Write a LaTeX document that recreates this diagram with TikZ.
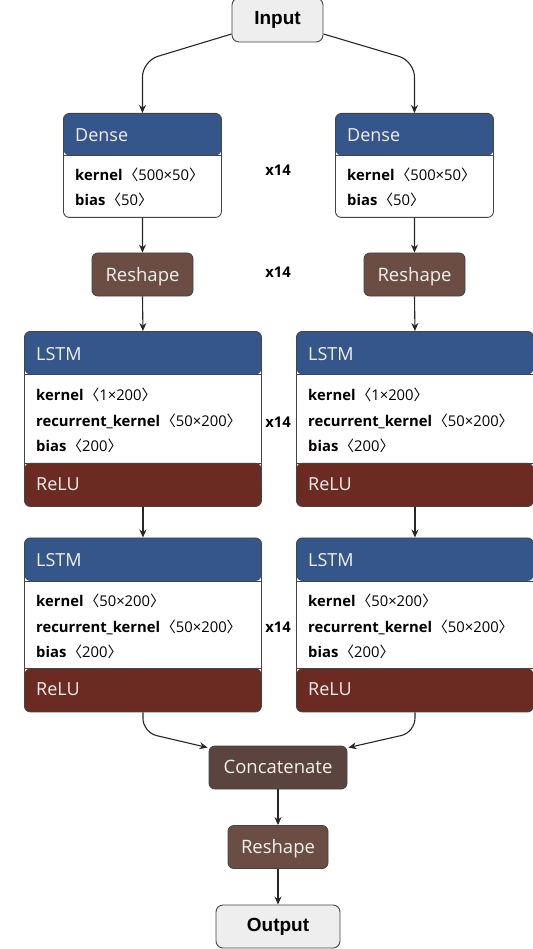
\documentclass[tikz,border=0pt]{standalone}
\usepackage{fontspec}
\setmainfont{Open Sans}
\newfontfamily\arialf{Liberation Sans}
\newfontfamily\cjkf{Noto Sans CJK SC}
\usetikzlibrary{arrows.meta,calc}
\definecolor{hdrblue}{HTML}{34568A}
\definecolor{relured}{HTML}{6B2A22}
\definecolor{reshbrown}{HTML}{6B4D44}
\definecolor{concbrown}{HTML}{5A443D}
\definecolor{iogray}{HTML}{EEEEEE}
\definecolor{bord}{HTML}{444444}
\definecolor{wtxt}{HTML}{F2F0EE}
\newcommand{\myL}{{\cjkf 〈}}
\newcommand{\myR}{{\cjkf 〉}}
\begin{document}
\begin{tikzpicture}[x=1pt,y=-1pt,
  layerbox/.style={draw=bord, line width=0.9pt, rounded corners=6pt, inner sep=0pt,
    anchor=north west, fill=white},
  densefill/.style={path picture={
    \fill[hdrblue] (path picture bounding box.north west) rectangle ([yshift=-42pt]path picture bounding box.north east);
    \draw[bord,line width=0.7pt] ([yshift=-42pt]path picture bounding box.north west) -- ([yshift=-42pt]path picture bounding box.north east);}},
  lstmfill/.style={path picture={
    \fill[hdrblue] (path picture bounding box.north west) rectangle ([yshift=-43pt]path picture bounding box.north east);
    \draw[bord,line width=0.7pt] ([yshift=-43pt]path picture bounding box.north west) -- ([yshift=-43pt]path picture bounding box.north east);
    \fill[relured] ([yshift=43.5pt]path picture bounding box.south west) rectangle (path picture bounding box.south east);
    \draw[bord,line width=0.7pt] ([yshift=43.5pt]path picture bounding box.south west) -- ([yshift=43.5pt]path picture bounding box.south east);}},
  opbox/.style={draw=bord, line width=0.9pt, rounded corners=6pt, inner sep=0pt,
    text=wtxt, font=\fontsize{18.5}{20}\selectfont, minimum height=43pt, text depth=1pt},
  iobox/.style={draw=bord, line width=0.9pt, rounded corners=7pt, inner sep=0pt, fill=iogray,
    font=\arialf\bfseries\fontsize{19}{20}\selectfont, minimum height=44pt},
  hdrtext/.style={anchor=mid west, inner sep=0pt, text=wtxt, font=\fontsize{18}{20}\selectfont},
  bodytext/.style={anchor=mid west, inner sep=0pt, font=\fontsize{14.8}{16}\selectfont},
  reptext/.style={inner sep=0pt, font=\bfseries\fontsize{14.8}{16}\selectfont},
  arr/.style={-{Stealth[length=8pt,width=7pt]}, line width=1.1pt, black!85}
]
\useasboundingbox (0,0) rectangle (532,949);

% Input
\node[iobox, minimum width=91pt] (in) at (277.5,20) {Input};

% Dense layers
\node[layerbox, densefill, minimum width=158pt, minimum height=104pt] (d1) at (63,113) {};
\node[layerbox, densefill, minimum width=158pt, minimum height=104pt] (d2) at (335,113) {};
\node[hdrtext] (d1h) at (75,139) {Dense};
\node[hdrtext] (d2h) at (347,139) {Dense};
\node[bodytext] (d1a) at (75,178) {\textbf{kernel}\hspace{1pt}\myL500×50\myR};
\node[bodytext] (d1b) at (75,203) {\textbf{bias}\hspace{1pt}\myL50\myR};
\node[bodytext] (d2a) at (347,178) {\textbf{kernel}\hspace{1pt}\myL500×50\myR};
\node[bodytext] (d2b) at (347,203) {\textbf{bias}\hspace{1pt}\myL50\myR};
\node[reptext] (x1) at (278,170) {x14};

% Reshape layers
\node[opbox, fill=reshbrown, minimum width=101pt] (r1) at (142.5,274.5) {Reshape};
\node[opbox, fill=reshbrown, minimum width=101pt] (r2) at (414.5,274.5) {Reshape};
\node[reptext] (x2) at (278,272) {x14};

% LSTM 1
\node[layerbox, lstmfill, minimum width=237pt, minimum height=175pt] (l1) at (24,331) {};
\node[layerbox, lstmfill, minimum width=237pt, minimum height=175pt] (l2) at (296,331) {};
\node[hdrtext] (l1h) at (36,358) {LSTM};
\node[hdrtext] (l2h) at (308,358) {LSTM};
\node[bodytext] (l1a) at (36,398) {\textbf{kernel}\hspace{1pt}\myL1×200\myR};
\node[bodytext] (l1b) at (36,423.5) {\textbf{recurrent\_kernel}\hspace{1pt}\myL50×200\myR};
\node[bodytext] (l1c) at (36,449) {\textbf{bias}\hspace{1pt}\myL200\myR};
\node[hdrtext] (l1f) at (36,488) {ReLU};
\node[bodytext] (l2a) at (308,398) {\textbf{kernel}\hspace{1pt}\myL1×200\myR};
\node[bodytext] (l2b) at (308,423.5) {\textbf{recurrent\_kernel}\hspace{1pt}\myL50×200\myR};
\node[bodytext] (l2c) at (308,449) {\textbf{bias}\hspace{1pt}\myL200\myR};
\node[hdrtext] (l2f) at (308,488) {ReLU};
\node[reptext] (x3) at (278,422) {x14};

% LSTM 2
\node[layerbox, lstmfill, minimum width=237pt, minimum height=174pt] (m1) at (24,537.5) {};
\node[layerbox, lstmfill, minimum width=237pt, minimum height=174pt] (m2) at (296,537.5) {};
\node[hdrtext] (m1h) at (36,564) {LSTM};
\node[hdrtext] (m2h) at (308,564) {LSTM};
\node[bodytext] (m1a) at (36,604) {\textbf{kernel}\hspace{1pt}\myL50×200\myR};
\node[bodytext] (m1b) at (36,629.5) {\textbf{recurrent\_kernel}\hspace{1pt}\myL50×200\myR};
\node[bodytext] (m1c) at (36,655) {\textbf{bias}\hspace{1pt}\myL200\myR};
\node[hdrtext] (m1f) at (36,693) {ReLU};
\node[bodytext] (m2a) at (308,604) {\textbf{kernel}\hspace{1pt}\myL50×200\myR};
\node[bodytext] (m2b) at (308,629.5) {\textbf{recurrent\_kernel}\hspace{1pt}\myL50×200\myR};
\node[bodytext] (m2c) at (308,655) {\textbf{bias}\hspace{1pt}\myL200\myR};
\node[hdrtext] (m2f) at (308,693) {ReLU};
\node[reptext] (x4) at (278,627) {x14};

% Merge
\node[opbox, fill=concbrown, minimum width=138pt] (cc) at (278,767.5) {Concatenate};
\node[opbox, fill=reshbrown, minimum width=100pt] (r3) at (278,847) {Reshape};
\node[iobox, minimum width=124pt, minimum height=43pt] (out) at (278,926.5) {Output};

% Connectors
\draw[arr, rounded corners=16pt] ([yshift=-14pt]in.west) -- ([yshift=52pt]d1.north) -- (d1.north);
\draw[arr, rounded corners=16pt] ([yshift=-14pt]in.east) -- ([yshift=52pt]d2.north) -- (d2.north);
\draw[arr] (d1.south) -- (r1.north);
\draw[arr] (d2.south) -- (r2.north);
\draw[arr] (r1.south) -- (l1.north);
\draw[arr] (r2.south) -- (l2.north);
\draw[arr] (l1.south) -- (m1.north);
\draw[arr] (l2.south) -- (m2.north);
\draw[arr, rounded corners=14pt] (m1.south) -- ([yshift=-20pt]m1.south) -- ([xshift=-1pt,yshift=-2pt]cc.north west);
\draw[arr, rounded corners=14pt] (m2.south) -- ([yshift=-20pt]m2.south) -- ([xshift=1pt,yshift=-2pt]cc.north east);
\draw[arr] (cc.south) -- (r3.north);
\draw[arr] (r3.south) -- (out.north);
\end{tikzpicture}
\end{document}
